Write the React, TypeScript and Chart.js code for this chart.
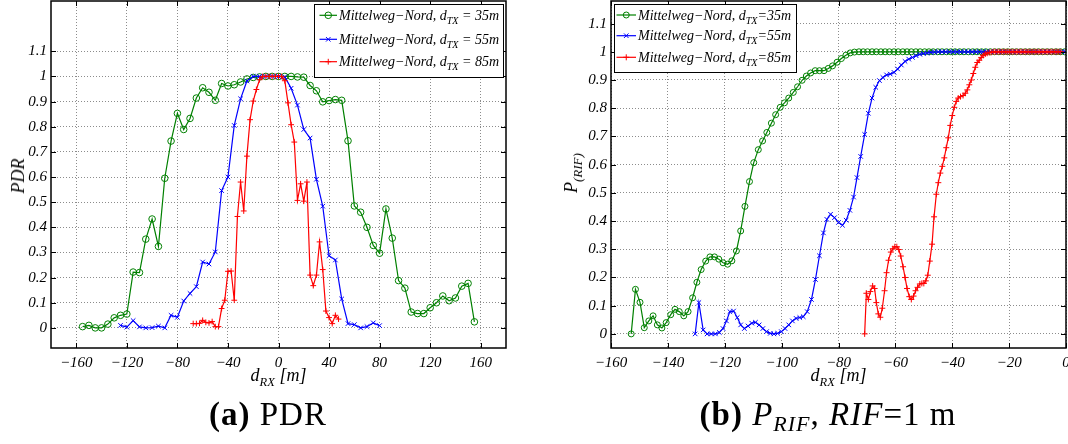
import React, { useEffect, useRef } from 'react';
import { Chart, registerables } from 'chart.js';
Chart.register(...registerables);

const FONT = '"Liberation Serif", "Times New Roman", Times, serif';
const GREEN = '#008000';
const BLUE = '#0000ff';
const RED = '#ff0000';

// ---------- (a) PDR ----------
const pdrGreenX = [-155,-150,-145,-140,-135,-130,-125,-120,-115,-110,-105,-100,-95,-90,-85,-80,-75,-70,-65,-60,-55,-50,-45,-40,-35,-30,-25,-20,-15,-10,-5,0,5,10,15,20,25,30,35,40,45,50,55,60,65,70,75,80,85,90,95,100,105,110,115,120,125,130,135,140,145,150,155];
const pdrGreenY = [0.005,0.01,0,0,0.015,0.04,0.05,0.055,0.222,0.22,0.353,0.433,0.324,0.595,0.743,0.853,0.789,0.833,0.914,0.955,0.937,0.905,0.972,0.962,0.967,0.978,0.99,0.996,0.998,1,1,1,1,1,0.998,0.997,0.964,0.943,0.899,0.904,0.908,0.905,0.744,0.485,0.46,0.4,0.328,0.297,0.473,0.357,0.188,0.158,0.063,0.057,0.057,0.08,0.1,0.127,0.108,0.119,0.166,0.177,0.024];
const pdrBlueX = [-125,-120,-115,-110,-105,-100,-95,-90,-85,-80,-75,-70,-65,-60,-55,-50,-45,-40,-35,-30,-25,-20,-15,-10,-5,0,5,10,15,20,25,30,35,40,45,50,55,60,65,70,75,80];
const pdrBlueY = [0.01,0.003,0.029,0.004,0,0.001,0.007,0,0.05,0.042,0.107,0.137,0.164,0.262,0.254,0.302,0.546,0.6,0.805,0.911,0.982,1,1,1,1,1,0.998,0.953,0.886,0.789,0.755,0.591,0.484,0.287,0.27,0.115,0.017,0.013,0,0.005,0.02,0.009];
const pdrRedX = [-67.5,-65,-62.5,-60,-57.5,-55,-52.5,-50,-47.5,-45,-42.5,-40,-37.5,-35,-32.5,-30,-27.5,-25,-22.5,-20,-17.5,-15,-12.5,-10,-7.5,-5,-2.5,0,2.5,5,7.5,10,12.5,15,17.5,20,22.5,25,27.5,30,32.5,35,37.5,40,42.5,45,47.5];
const pdrRedY = [0.017,0.017,0.018,0.03,0.022,0.02,0.025,0.005,0.005,0.077,0.11,0.225,0.226,0.11,0.443,0.58,0.465,0.683,0.828,0.902,0.948,0.987,1,1,1,1,1,1,1,0.983,0.895,0.808,0.739,0.507,0.573,0.504,0.58,0.21,0.168,0.21,0.342,0.232,0.067,0.041,0.017,0.05,0.035];
const pdrXTicks = [-160,-120,-80,-40,0,40,80,120,160];
const pdrLegendSuffix = [' = 35m', ' = 55m', ' = 85m'];

// ---------- (b) P_RIF ----------
const rifGreenX = [-152.9,-151.4,-149.8,-148.3,-146.7,-145.2,-143.7,-142.1,-140.6,-139.0,-137.5,-136.0,-134.4,-132.9,-131.3,-129.8,-128.3,-126.7,-125.2,-123.6,-122.1,-120.6,-119.0,-117.5,-115.9,-114.4,-112.9,-111.3,-109.8,-108.2,-106.7,-105.2,-103.6,-102.1,-100.5,-99.0,-97.5,-95.9,-94.4,-92.8,-91.3,-89.8,-88.2,-86.7,-85.1,-83.6,-82.1,-80.5,-79.0,-77.4,-75.9,-74.4,-72.8,-71.3,-69.8,-68.2,-66.7,-65.1,-63.6,-62.1,-60.5,-59.0,-57.4,-55.9,-54.4,-52.8,-51.3,-49.7,-48.2,-46.7,-45.1,-43.6,-42.0,-40.5,-39.0,-37.4,-35.9,-34.3,-32.8,-31.3,-29.7,-28.2,-26.6,-25.1,-23.6,-22.0,-20.5,-18.9,-17.4,-15.9,-14.3,-12.8,-11.2,-9.7,-8.2,-6.6,-5.1,-3.5,-2.0,-0.5];
const rifGreenY = [0,0.158,0.112,0.022,0.046,0.064,0.032,0.021,0.04,0.068,0.087,0.079,0.064,0.079,0.128,0.183,0.228,0.258,0.273,0.273,0.265,0.252,0.247,0.259,0.294,0.365,0.452,0.54,0.607,0.653,0.684,0.714,0.747,0.777,0.803,0.819,0.836,0.856,0.876,0.899,0.914,0.925,0.933,0.933,0.933,0.941,0.95,0.963,0.976,0.988,0.996,0.999,1,1,1,1,1,1,1,1,1,1,1,1,1,1,1,1,1,1,1,1,1,1,1,1,1,1,1,1,1,1,1,1,1,1,1,1,1,1,1,1,1,1,1,1,1,1,1,1,1,1];
const rifBlueX = [-130.4,-129.1,-127.6,-126.2,-124.7,-123.3,-121.9,-120.6,-119.4,-118.2,-116.9,-115.6,-114.4,-113.1,-111.8,-110.5,-109.2,-107.9,-106.6,-105.3,-104.0,-102.7,-101.4,-100.1,-98.8,-97.5,-96.2,-94.9,-93.6,-92.4,-91.0,-89.5,-88.1,-86.7,-85.3,-84.1,-82.8,-81.4,-80.0,-78.6,-77.3,-76.0,-74.7,-73.5,-72.2,-70.8,-69.5,-68.2,-66.9,-65.6,-64.4,-63.1,-61.8,-60.5,-59.2,-57.9,-56.6,-55.3,-54.0,-52.7,-51.4,-50.1,-48.8,-47.5,-46.2,-44.9,-43.6,-42.3,-41.0,-39.6,-38.3,-37.0,-35.7,-34.4,-33.1,-31.7,-30.4,-29.1,-27.8,-26.5,-25.2,-23.8,-22.5,-21.2,-19.9,-18.6,-17.3,-15.9,-14.6,-13.3,-12.0,-10.7,-9.4,-8.0,-6.7,-5.4,-4.1,-2.8,-1.5,-0.2];
const rifBlueY = [0,0.111,0.014,0,0,0,0.005,0.019,0.046,0.079,0.081,0.058,0.032,0.019,0.028,0.038,0.041,0.032,0.019,0.008,0.002,0,0.002,0.008,0.019,0.032,0.046,0.055,0.058,0.061,0.079,0.122,0.193,0.277,0.358,0.406,0.424,0.412,0.395,0.385,0.403,0.438,0.485,0.554,0.629,0.707,0.782,0.836,0.874,0.898,0.909,0.918,0.921,0.927,0.939,0.953,0.966,0.974,0.98,0.986,0.991,0.994,0.996,0.998,0.999,1,1,1,1,1,1,1,1,1,1,1,1,1,1,1,1,1,1,1,1,1,1,1,1,1,1,1,1,1,1,1,1,1,1,1];
const rifRedX = [-70.8,-70.2,-69.5,-68.8,-68.0,-67.3,-66.7,-66.0,-65.3,-64.6,-63.8,-63.1,-62.4,-61.6,-60.9,-60.2,-59.5,-58.8,-58.1,-57.3,-56.6,-55.9,-55.1,-54.4,-53.6,-52.9,-52.2,-51.4,-50.7,-50.0,-49.3,-48.6,-47.9,-47.1,-46.4,-45.6,-44.9,-44.2,-43.5,-42.8,-42.1,-41.4,-40.7,-40.0,-39.3,-38.6,-37.9,-37.1,-36.2,-35.4,-34.7,-34.0,-33.3,-32.6,-31.9,-31.2,-30.5,-29.8,-29.1,-28.4,-27.7,-27.0,-26.3,-25.6,-24.9,-24.2,-23.5,-22.8,-22.1,-21.4,-20.7,-20.0,-19.3,-18.6,-17.9,-17.2,-16.5,-15.8,-15.1,-14.4,-13.7,-13.0,-12.3,-11.6,-10.9,-10.2,-9.5,-8.8,-8.1,-7.4,-6.7,-6.0,-5.3,-4.6,-3.9,-3.2,-2.5,-1.8,-1.1,-0.4];
const rifRedY = [0,0.144,0.122,0.15,0.17,0.161,0.111,0.071,0.059,0.091,0.153,0.217,0.261,0.29,0.302,0.309,0.309,0.299,0.276,0.238,0.2,0.161,0.132,0.122,0.134,0.153,0.165,0.177,0.179,0.179,0.188,0.208,0.258,0.318,0.415,0.495,0.536,0.57,0.594,0.624,0.66,0.695,0.739,0.774,0.803,0.824,0.836,0.841,0.845,0.853,0.865,0.883,0.9,0.923,0.945,0.962,0.97,0.98,0.987,0.992,0.995,0.997,0.998,1,1,1,1,1,1,1,1,1,1,1,1,1,1,1,1,1,1,1,1,1,1,1,1,1,1,1,1,1,1,1,1,1,1,1];
const rifXTicks = [-160,-140,-120,-100,-80,-60,-40,-20,0];
const rifLegendSuffix = ['=35m', '=55m', '=85m'];

const yTicks = [0,0.1,0.2,0.3,0.4,0.5,0.6,0.7,0.8,0.9,1,1.1];
const legendBase = 'Mittelweg\u2212Nord, d';
const legendSub = 'TX';

type Mk = 'circle' | 'crossRot' | 'cross';
interface Series { xs: number[]; ys: number[]; color: string; mk: Mk; r: number; order: number }

const fmt = (v: number) => String(v).replace('-', '\u2212');

function drawMarker(ctx: CanvasRenderingContext2D, mk: Mk, x: number, y: number, r: number) {
  ctx.beginPath();
  if (mk === 'circle') {
    ctx.arc(x, y, r, 0, Math.PI * 2);
  } else if (mk === 'cross') {
    ctx.moveTo(x - r, y); ctx.lineTo(x + r, y);
    ctx.moveTo(x, y - r); ctx.lineTo(x, y + r);
  } else {
    const d = r * 0.7071;
    ctx.moveTo(x - d, y - d); ctx.lineTo(x + d, y + d);
    ctx.moveTo(x - d, y + d); ctx.lineTo(x + d, y - d);
  }
  ctx.stroke();
}

const matlabPlugin = {
  id: 'matlab',
  afterDraw(chart: any, _args: any, opts: any) {
    const { ctx, chartArea: a } = chart;
    const xs = chart.scales.x;
    const ys = chart.scales.y;
    ctx.save();
    ctx.strokeStyle = '#000';
    ctx.lineWidth = 1;
    ctx.beginPath();
    for (const t of xs.ticks) {
      const p = Math.round(xs.getPixelForValue(t.value)) + 0.5;
      ctx.moveTo(p, a.bottom); ctx.lineTo(p, a.bottom - 5);
      ctx.moveTo(p, a.top); ctx.lineTo(p, a.top + 5);
    }
    for (const t of ys.ticks) {
      const p = Math.round(ys.getPixelForValue(t.value)) + 0.5;
      ctx.moveTo(a.left, p); ctx.lineTo(a.left + 5, p);
      ctx.moveTo(a.right, p); ctx.lineTo(a.right - 5, p);
    }
    ctx.stroke();
    ctx.lineWidth = 1.5;
    ctx.strokeRect(a.left, a.top, a.right - a.left, a.bottom - a.top);

    const L = opts.legend;
    const bx = L.anchor === 'right' ? a.right - L.inset - L.width : a.left + L.inset;
    const by = a.top + L.insetTop;
    ctx.fillStyle = '#fff';
    ctx.fillRect(bx, by, L.width, L.height);
    ctx.lineWidth = 1;
    ctx.strokeStyle = '#000';
    ctx.strokeRect(Math.round(bx) + 0.5, Math.round(by) + 0.5, L.width, L.height);
    L.items.forEach((it: any, i: number) => {
      const ry = by + L.rows[i];
      ctx.strokeStyle = it.color;
      ctx.lineWidth = 1.2;
      ctx.beginPath();
      ctx.moveTo(bx + L.lineX0, ry); ctx.lineTo(bx + L.lineX1, ry);
      ctx.stroke();
      ctx.lineWidth = 1;
      drawMarker(ctx, it.mk, bx + (L.lineX0 + L.lineX1) / 2, ry, it.r);
      ctx.fillStyle = '#000';
      ctx.textBaseline = 'alphabetic';
      ctx.textAlign = 'left';
      let tx = bx + L.textX;
      const base = ry + 4.5;
      ctx.font = `italic ${L.fontSize}px ${FONT}`;
      ctx.fillText(legendBase, tx, base);
      tx += ctx.measureText(legendBase).width;
      ctx.font = `italic ${L.fontSize * 0.72}px ${FONT}`;
      ctx.fillText(legendSub, tx, base + 4);
      tx += ctx.measureText(legendSub).width;
      ctx.font = `italic ${L.fontSize}px ${FONT}`;
      ctx.fillText(it.suffix, tx, base);
    });
    ctx.restore();
  },
};

function makeConfig(p: {
  series: Series[]; xMin: number; xMax: number; yMin: number; yMax: number; xTicks: number[];
  yAxisW: number; padRight: number; xAxisH: number; legend: any;
}): any {
  const tickFont = { family: FONT, size: 15, style: 'italic' as const };
  const noPad = (s: any) => { s.paddingTop = 0; s.paddingBottom = 0; s.paddingLeft = 0; s.paddingRight = 0; };
  return {
    type: 'line',
    data: {
      datasets: p.series.map((s) => ({
        data: s.xs.map((x, i) => ({ x, y: s.ys[i] })),
        borderColor: s.color,
        borderWidth: 1.2,
        pointStyle: s.mk,
        pointRadius: s.r,
        pointBorderColor: s.color,
        pointBackgroundColor: 'rgba(0,0,0,0)',
        pointBorderWidth: 1,
        tension: 0,
        fill: false,
        order: s.order,
      })),
    },
    options: {
      animation: false,
      responsive: false,
      devicePixelRatio: 1,
      events: [],
      layout: { autoPadding: false, padding: { top: 1, right: p.padRight, left: 0, bottom: 0 } },
      plugins: { legend: { display: false }, tooltip: { enabled: false }, matlab: { legend: p.legend } },
      scales: {
        x: {
          type: 'linear',
          min: p.xMin,
          max: p.xMax,
          afterBuildTicks: (s: any) => { s.ticks = p.xTicks.map((v) => ({ value: v })); },
          afterFit: (s: any) => { s.height = p.xAxisH; noPad(s); },
          ticks: { font: tickFont, color: '#000', padding: 6, maxRotation: 0, autoSkip: false, callback: (v: number) => fmt(v) },
          grid: { color: '#8c8c8c', lineWidth: 1, drawTicks: false },
          border: { display: false, dash: [1, 2] },
        },
        y: {
          type: 'linear',
          min: p.yMin,
          max: p.yMax,
          afterBuildTicks: (s: any) => { s.ticks = yTicks.map((v) => ({ value: v })); },
          afterFit: (s: any) => { s.width = p.yAxisW; noPad(s); },
          ticks: { font: tickFont, color: '#000', padding: 4, autoSkip: false, callback: (v: number) => fmt(v) },
          grid: { color: '#8c8c8c', lineWidth: 1, drawTicks: false },
          border: { display: false, dash: [1, 2] },
        },
      },
    },
    plugins: [matlabPlugin],
  };
}

function ChartCanvas({ left, width, height, build }: { left: number; width: number; height: number; build: () => any }) {
  const ref = useRef<HTMLCanvasElement>(null);
  useEffect(() => {
    const chart = new Chart(ref.current as HTMLCanvasElement, build());
    return () => chart.destroy();
  }, []);
  return (
    <canvas ref={ref} width={width} height={height}
      style={{ position: 'absolute', left, top: 0, width, height, display: 'block' }} />
  );
}

const CANVAS_H = 395;

function buildPdr() {
  const series: Series[] = [
    { xs: pdrGreenX, ys: pdrGreenY, color: GREEN, mk: 'circle', r: 3.3, order: 3 },
    { xs: pdrBlueX, ys: pdrBlueY, color: BLUE, mk: 'crossRot', r: 3.2, order: 2 },
    { xs: pdrRedX, ys: pdrRedY, color: RED, mk: 'cross', r: 2.9, order: 1 },
  ];
  return makeConfig({
    series, xMin: -180, xMax: 180, yMin: -0.08, yMax: 1.3, xTicks: pdrXTicks,
    yAxisW: 51, padRight: 534 - 506, xAxisH: CANVAS_H - 348,
    legend: {
      anchor: 'right', inset: 3, insetTop: 3, width: 189, height: 73,
      rows: [11.3, 35.3, 57.7], lineX0: 5.5, lineX1: 23, textX: 25, fontSize: 14,
      items: series.map((s, i) => ({ color: s.color, mk: s.mk, r: s.r, suffix: pdrLegendSuffix[i] })),
    },
  });
}

function buildRif() {
  const series: Series[] = [
    { xs: rifGreenX, ys: rifGreenY, color: GREEN, mk: 'circle', r: 3, order: 3 },
    { xs: rifBlueX, ys: rifBlueY, color: BLUE, mk: 'crossRot', r: 3.2, order: 2 },
    { xs: rifRedX, ys: rifRedY, color: RED, mk: 'cross', r: 3, order: 1 },
  ];
  return makeConfig({
    series, xMin: -160, xMax: 0, yMin: -0.05, yMax: 1.18, xTicks: rifXTicks,
    yAxisW: 611 - 534, padRight: 541 - (1066 - 534), xAxisH: CANVAS_H - 348,
    legend: {
      anchor: 'left', inset: 3, insetTop: 3, width: 182, height: 68,
      rows: [11, 31.7, 53.3], lineX0: 2.5, lineX1: 22, textX: 24, fontSize: 14,
      items: series.map((s, i) => ({ color: s.color, mk: s.mk, r: s.r, suffix: rifLegendSuffix[i] })),
    },
  });
}

const abs: React.CSSProperties = { position: 'absolute', whiteSpace: 'nowrap' };

export default function App() {
  useEffect(() => { document.body.style.margin = '0'; }, []);
  return (
    <div style={{ position: 'absolute', left: 0, top: 0, width: 1068, height: 444, overflow: 'hidden', background: '#fff', fontFamily: FONT, color: '#000' }}>
      <ChartCanvas left={0} width={534} height={CANVAS_H} build={buildPdr} />
      <ChartCanvas left={534} width={541} height={CANVAS_H} build={buildRif} />

      {/* y-axis titles */}
      <div style={{ ...abs, left: 17.6, top: 175.5, fontSize: 18, lineHeight: '18px', fontStyle: 'italic', transform: 'translate(-50%, -50%) rotate(-90deg)' }}>PDR</div>
      <div style={{ ...abs, left: 572, top: 173, fontSize: 18, lineHeight: '18px', fontStyle: 'italic', transform: 'translate(-50%, -50%) rotate(-90deg)' }}>
        P<span style={{ fontSize: 13, position: 'relative', top: 5 }}>(RIF)</span>
      </div>

      {/* x-axis titles */}
      <div style={{ ...abs, left: 278.5, top: 366, fontSize: 18, lineHeight: '18px', fontStyle: 'italic', transform: 'translateX(-50%)' }}>
        d<span style={{ fontSize: 12.5, position: 'relative', top: 5 }}>RX</span> [m]
      </div>
      <div style={{ ...abs, left: 838.5, top: 366, fontSize: 18, lineHeight: '18px', fontStyle: 'italic', transform: 'translateX(-50%)' }}>
        d<span style={{ fontSize: 12.5, position: 'relative', top: 5 }}>RX</span> [m]
      </div>

      {/* captions */}
      <div style={{ ...abs, left: 268, top: 398, fontSize: 33, lineHeight: '33px', letterSpacing: 1, transform: 'translateX(-50%)' }}>
        <b>(a)</b> PDR
      </div>
      <div style={{ ...abs, left: 828, top: 398, fontSize: 33, lineHeight: '33px', letterSpacing: 1, transform: 'translateX(-50%)' }}>
        <b>(b)</b> <i>P</i><span style={{ fontSize: 22, fontStyle: 'italic', position: 'relative', top: 6 }}>RIF</span>, <i>RIF</i>=1 m
      </div>
    </div>
  );
}
